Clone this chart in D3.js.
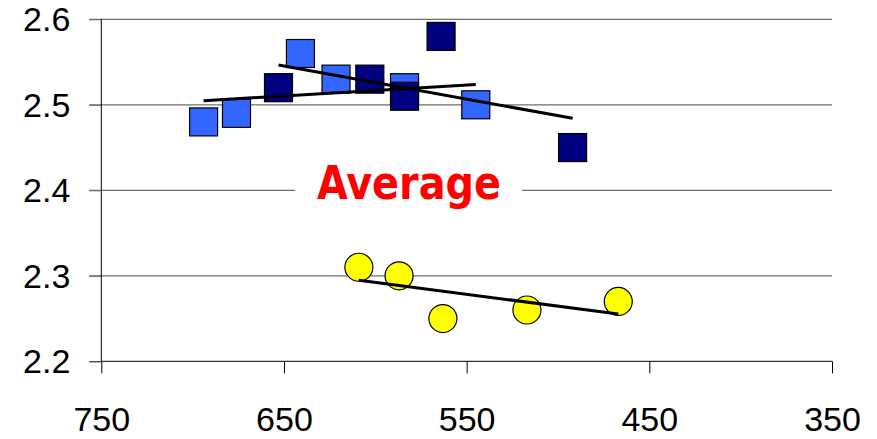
<!DOCTYPE html>
<html><head><meta charset="utf-8">
<script src="https://cdn.jsdelivr.net/npm/d3@7"></script>
<style>body{margin:0;background:#fff}svg{display:block}</style>
</head><body>
<svg id="c" width="877" height="439"></svg>
<script>
const xTicks = [750, 650, 550, 450, 350];
const yTicks = [2.2, 2.3, 2.4, 2.5, 2.6];
const lightX = [694, 676, 641, 621.5, 584, 545];
const lightY = [2.48, 2.49, 2.56, 2.53, 2.52, 2.50];
const navyX = [653, 603, 584, 564, 492];
const navyY = [2.52, 2.53, 2.51, 2.58, 2.45];
const yellowX = [609, 587, 563, 517, 467];
const yellowY = [2.31, 2.30, 2.25, 2.26, 2.27];
const labelText = "Average";
const labelY = 2.4;

const svg = d3.select("#c");
const x = d3.scaleLinear().domain([750, 350]).range([101.3, 832]);
const y = d3.scaleLinear().domain([2.2, 2.6]).range([361.3, 19.3]);

// gridlines
svg.append("g").selectAll("line").data(yTicks.filter(d => d !== 2.2)).join("line")
  .attr("x1", 89).attr("x2", x(350))
  .attr("y1", d => y(d)).attr("y2", d => y(d))
  .attr("stroke", "#6e6e6e").attr("stroke-width", 1.2);

// y axis
const yAxis = svg.append("g").attr("transform", `translate(${x(750)},0)`)
  .call(d3.axisLeft(y).tickValues(yTicks).tickSize(12).tickPadding(19).tickFormat(d3.format(".1f")));
yAxis.select(".domain").remove();
yAxis.append("line").attr("x1", 0).attr("x2", 0).attr("y1", y(2.6)).attr("y2", y(2.2)).attr("stroke", "#000");
yAxis.selectAll(".tick line").attr("stroke", d => d === 2.2 ? "#000" : "#6e6e6e");
yAxis.selectAll(".tick text").attr("font-family", "'Liberation Sans', Arial, sans-serif")
  .attr("font-size", 34).attr("fill", "#000").attr("dy", "0.33em");

// x axis
const xAxis = svg.append("g").attr("transform", `translate(0,${y(2.2)})`)
  .call(d3.axisBottom(x).tickValues(xTicks).tickSize(12).tickPadding(34));
xAxis.select(".domain").remove();
xAxis.append("line").attr("x1", x(750)).attr("x2", x(350)).attr("y1", 0).attr("y2", 0).attr("stroke", "#000");
xAxis.selectAll(".tick line").attr("stroke", "#000");
xAxis.selectAll(".tick text").attr("font-family", "'Liberation Sans', Arial, sans-serif")
  .attr("font-size", 34).attr("fill", "#000").attr("dy", "0.71em");

// label with white box
svg.append("rect").attr("x", 295).attr("y", y(labelY) - 32).attr("width", 227).attr("height", 56).attr("fill", "#fff");
svg.append("text").attr("x", 317).attr("y", y(labelY) + 9)
  .attr("font-family", "'DejaVu Sans Condensed', 'DejaVu Sans', sans-serif")
  .attr("font-weight", "bold").attr("font-size", 46).attr("fill", "#ff0000")
  .attr("textLength", 184).attr("lengthAdjust", "spacingAndGlyphs")
  .text(labelText);

const S = 28;
function squares(xs, ys, fill) {
  svg.append("g").selectAll("rect").data(xs.map((v, i) => [v, ys[i]])).join("rect")
    .attr("x", d => x(d[0]) - S / 2).attr("y", d => y(d[1]) - S / 2)
    .attr("width", S).attr("height", S)
    .attr("fill", fill).attr("stroke", "#000").attr("stroke-width", 1.2);
}
squares(lightX, lightY, "#3366ff");
squares(navyX, navyY, "#000080");

svg.append("g").selectAll("circle").data(yellowX.map((v, i) => [v, yellowY[i]])).join("circle")
  .attr("cx", d => x(d[0])).attr("cy", d => y(d[1])).attr("r", 14)
  .attr("fill", "#ffff00").attr("stroke", "#000").attr("stroke-width", 1.2);

// linear regression trend lines
function trend(xs, ys) {
  const mx = d3.mean(xs), my = d3.mean(ys);
  const sxy = d3.sum(xs, (v, i) => (v - mx) * (ys[i] - my));
  const sxx = d3.sum(xs, v => (v - mx) * (v - mx));
  const b = sxy / sxx, a = my - b * mx;
  const [x0, x1] = d3.extent(xs);
  svg.append("line")
    .attr("x1", x(x0)).attr("y1", y(a + b * x0))
    .attr("x2", x(x1)).attr("y2", y(a + b * x1))
    .attr("stroke", "#000").attr("stroke-width", 3);
}
trend(lightX, lightY);
trend(navyX, navyY);
trend(yellowX, yellowY);
</script>
</body></html>
